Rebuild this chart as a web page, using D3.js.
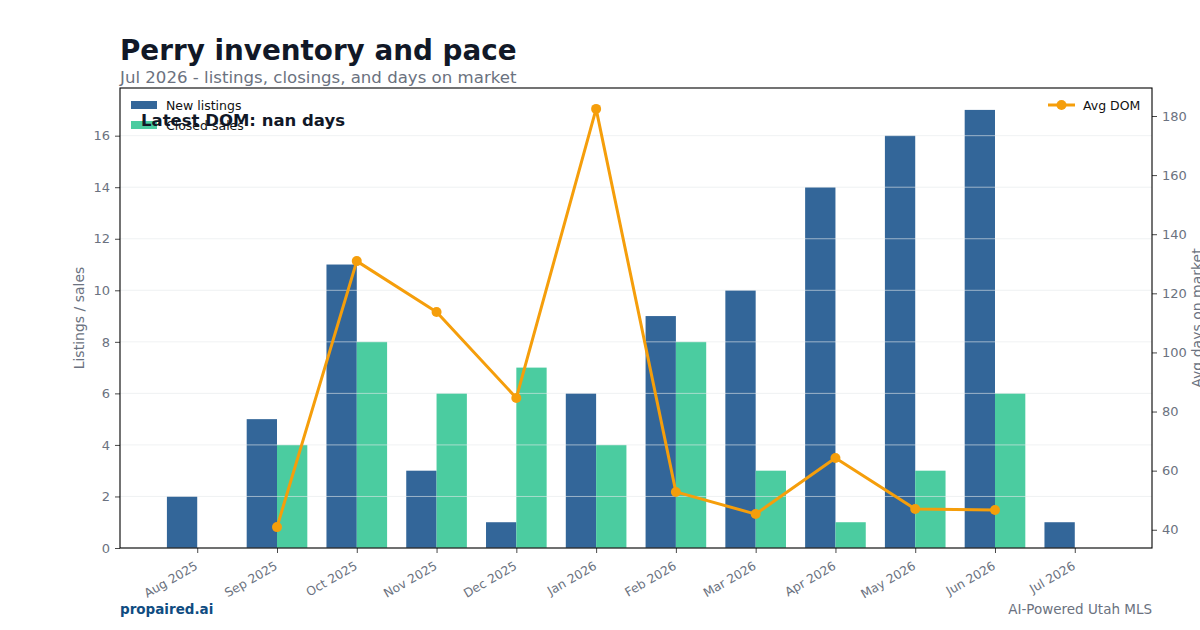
<!DOCTYPE html>
<html><head><meta charset="utf-8">
<script src="https://cdn.jsdelivr.net/npm/d3@7"></script>
<style>body{margin:0;background:#fff;}svg{display:block;font-family:"DejaVu Sans",sans-serif;}</style>
</head><body>
<script>
const months = ["Aug 2025","Sep 2025","Oct 2025","Nov 2025","Dec 2025","Jan 2026","Feb 2026","Mar 2026","Apr 2026","May 2026","Jun 2026","Jul 2026"];
const newListings = [2,5,11,3,1,6,9,10,14,16,17,1];
const closedSales = [0,4,8,6,7,4,8,3,1,3,6,0];
const avgDom = [null,40.9,130.9,113.7,84.6,182.4,52.8,45.3,64.3,47.0,46.7,null];
const leftTicks = [0,2,4,6,8,10,12,14,16];
const rightTicks = [40,60,80,100,120,140,160,180];

const W=1200,H=630;
const L=120,R=1152,T=88,B=548;
const bw=0.38;
const svg=d3.select("body").append("svg").attr("width",W).attr("height",H);

const n=months.length;
const xmin=-bw, xmax=(n-1)+bw, xm=(xmax-xmin)*0.05;
const x=d3.scaleLinear().domain([xmin-xm,xmax+xm]).range([L,R]);
const yL=d3.scaleLinear().domain([0,d3.max(newListings.concat(closedSales))*1.05]).range([B,T]);
const domVals=avgDom.filter(v=>v!=null);
const dmin=d3.min(domVals),dmax=d3.max(domVals),dm=(dmax-dmin)*0.05;
const yR=d3.scaleLinear().domain([dmin-dm,dmax+dm]).range([B,T]);

const gray="#6b7280";
// title
svg.append("text").attr("x",120).attr("y",60).attr("font-size",27.8).attr("font-weight","bold").attr("fill","#111827").text("Perry inventory and pace");
svg.append("text").attr("x",120).attr("y",83).attr("font-size",16.6).attr("fill",gray).text("Jul 2026 - listings, closings, and days on market");

// bars
const g=svg.append("g");
g.selectAll(".nl").data(newListings).join("rect")
 .attr("x",(d,i)=>x(i-bw)).attr("width",(d,i)=>x(i)-x(i-bw))
 .attr("y",d=>yL(d)).attr("height",d=>B-yL(d)).attr("fill","#336699");
g.selectAll(".cs").data(closedSales).join("rect")
 .attr("x",(d,i)=>x(i)).attr("width",(d,i)=>x(i+bw)-x(i))
 .attr("y",d=>yL(d)).attr("height",d=>B-yL(d)).attr("fill","#4bcca0");

// grid
g.selectAll(".grid").data(leftTicks).join("line")
 .attr("x1",L).attr("x2",R).attr("y1",d=>yL(d)).attr("y2",d=>yL(d))
 .attr("stroke","#e5e7eb").attr("stroke-opacity",0.6).attr("stroke-width",1);

// axes
const axL=svg.append("g").attr("transform",`translate(${L},0)`).call(d3.axisLeft(yL).tickValues(leftTicks).tickSize(5).tickPadding(5));
const axR=svg.append("g").attr("transform",`translate(${R},0)`).call(d3.axisRight(yR).tickValues(rightTicks).tickSize(5).tickPadding(5));
const axB=svg.append("g").attr("transform",`translate(0,${B})`).call(d3.axisBottom(x).tickValues(d3.range(n)).tickFormat(i=>months[i]).tickSize(5).tickPadding(4));
[axL,axR,axB].forEach(a=>{a.select(".domain").remove();a.selectAll(".tick line").attr("stroke","#333").attr("stroke-width",0.9);a.selectAll("text").attr("fill",gray).attr("font-size",13).attr("font-family","DejaVu Sans");});
axB.selectAll("text").attr("font-size",12.3).attr("text-anchor","end").attr("dy",0).attr("transform","translate(-8,5) rotate(-30)").attr("dominant-baseline","hanging");

// spines
svg.append("rect").attr("x",L).attr("y",T).attr("width",R-L).attr("height",B-T).attr("fill","none").attr("stroke","#000").attr("stroke-width",1.1);

// axis labels
svg.append("text").attr("transform",`translate(84,${(T+B)/2}) rotate(-90)`).attr("text-anchor","middle").attr("font-size",14).attr("fill",gray).text("Listings / sales");
svg.append("text").attr("transform",`translate(1202,${(T+B)/2}) rotate(-90)`).attr("text-anchor","middle").attr("font-size",14).attr("fill",gray).text("Avg days on market");

// line
const pts=avgDom.map((v,i)=>({v,i})).filter(d=>d.v!=null);
const orange="#f59e0b";
svg.append("path").datum(pts).attr("fill","none").attr("stroke",orange).attr("stroke-width",3).attr("stroke-linejoin","round")
 .attr("d",d3.line().x(d=>x(d.i)).y(d=>yR(d.v)));
svg.selectAll(".dot").data(pts).join("circle").attr("cx",d=>x(d.i)).attr("cy",d=>yR(d.v)).attr("r",5).attr("fill",orange);

// legend left
const lg=svg.append("g");
lg.append("rect").attr("x",131).attr("y",101).attr("width",26).attr("height",8).attr("fill","#336699");
lg.append("text").attr("x",166).attr("y",109.5).attr("font-size",12.5).attr("fill","#111").text("New listings");
lg.append("rect").attr("x",131).attr("y",121).attr("width",26).attr("height",8).attr("fill","#4bcca0");
lg.append("text").attr("x",166).attr("y",129.5).attr("font-size",12.5).attr("fill","#111").text("Closed sales");
// legend right
lg.append("line").attr("x1",1048).attr("x2",1075).attr("y1",105).attr("y2",105).attr("stroke",orange).attr("stroke-width",3);
lg.append("circle").attr("cx",1061.5).attr("cy",105).attr("r",5).attr("fill",orange);
lg.append("text").attr("x",1083).attr("y",109.5).attr("font-size",12.5).attr("fill","#111").text("Avg DOM");

// annotation
svg.append("text").attr("x",141).attr("y",125.5).attr("font-size",16.5).attr("font-weight","bold").attr("fill","#111827").text("Latest DOM: nan days");

// footer
svg.append("text").attr("x",120).attr("y",614).attr("font-size",13.5).attr("font-weight","bold").attr("fill","#0f4c81").text("propaired.ai");
svg.append("text").attr("x",1152).attr("y",614).attr("text-anchor","end").attr("font-size",13.5).attr("fill",gray).text("AI-Powered Utah MLS");
</script>
</body></html>
